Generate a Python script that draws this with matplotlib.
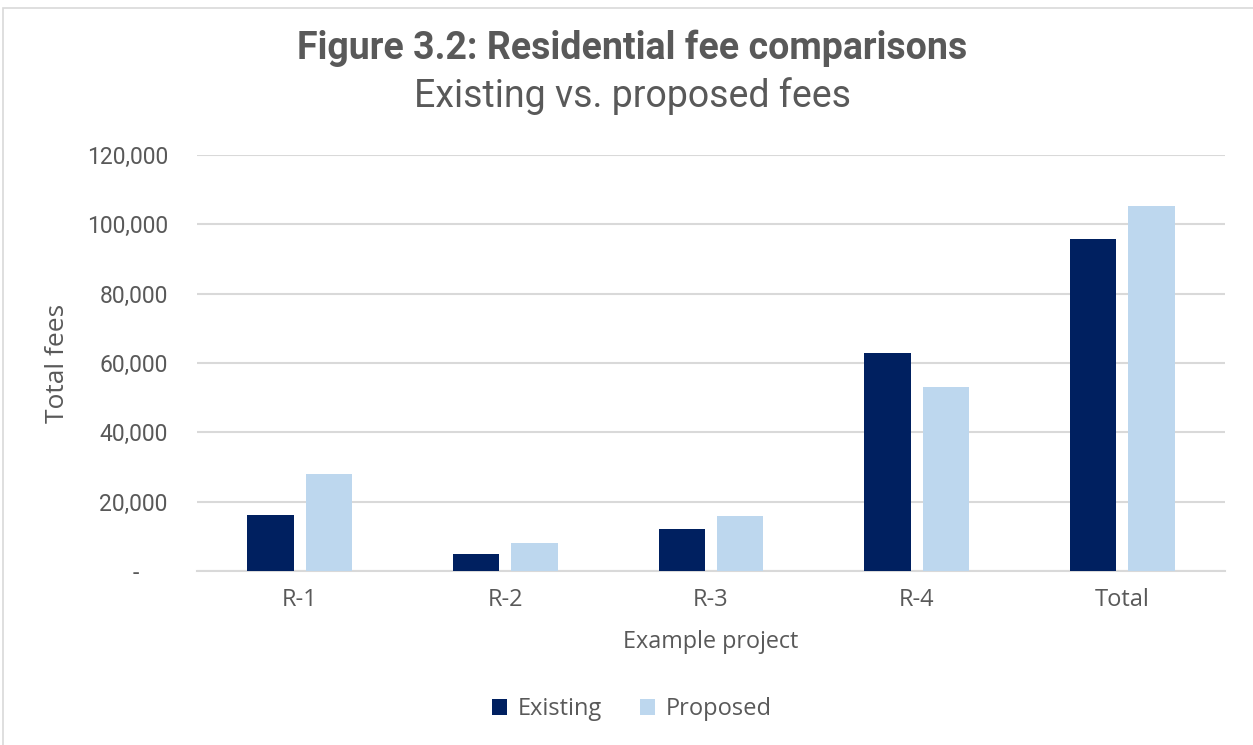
import numpy as np
from matplotlib import pyplot as plt
from matplotlib.patches import Rectangle
from matplotlib.ticker import FuncFormatter

categories = ['R-1', 'R-2', 'R-3', 'R-4', 'Total']
existing = [16200, 4900, 12000, 62800, 95900]
proposed = [28000, 8100, 15800, 53000, 105200]
yticks = [0, 20000, 40000, 60000, 80000, 100000, 120000]

navy = '#002060'
light = '#BDD7EE'
grey_txt = '#595959'
grid_col = '#D9D9D9'
body_font = ['Open Sans', 'DejaVu Sans']

plt.rcParams['font.family'] = ['Roboto', 'DejaVu Sans']

fig = plt.figure(figsize=(12.53, 7.45), dpi=100)
ax = fig.add_axes([197 / 1253, 1 - 571 / 745, (1225 - 197) / 1253, (571 - 155) / 745])

x = np.arange(len(categories))
w = 0.226
ax.bar(x - 0.142, existing, w, color=navy, label='Existing', zorder=3)
ax.bar(x + 0.142, proposed, w, color=light, label='Proposed', zorder=3)

ax.set_xlim(-0.5, 4.5)
ax.set_ylim(0, 120000)
ax.set_yticks(yticks)
ax.yaxis.set_major_formatter(FuncFormatter(lambda v, p: '-     ' if v == 0 else f'{int(v):,}'))
ax.set_xticks(x)
ax.set_xticklabels(categories)
ax.grid(axis='y', color=grid_col, linewidth=1.5, zorder=0)
for s in ['top', 'right', 'left']:
    ax.spines[s].set_visible(False)
ax.spines['bottom'].set_color(grid_col)
ax.spines['bottom'].set_linewidth(1.5)
ax.tick_params(axis='both', length=0, labelcolor=grey_txt)
ax.tick_params(axis='y', pad=21, labelsize=16.5)
ax.tick_params(axis='x', pad=12, labelsize=17)
for lbl in ax.get_xticklabels():
    lbl.set_family(body_font)

ax.set_ylabel('Total fees', fontsize=19, color=grey_txt, family=body_font, labelpad=12)
ax.set_xlabel('Example project', fontsize=16.8, color=grey_txt, family=body_font, labelpad=13)

fig.text(632 / 1253, 1 - 48 / 745, 'Figure 3.2: Residential fee comparisons', ha='center', va='center',
         fontsize=27, fontweight='bold', color=grey_txt)
fig.text(632 / 1253, 1 - 96 / 745, 'Existing vs. proposed fees', ha='center', va='center',
         fontsize=27, color=grey_txt)

leg = fig.legend(loc='center', bbox_to_anchor=(632 / 1253, 1 - 709 / 745), ncol=2, frameon=False,
                 handlelength=0.65, handleheight=0.65, handletextpad=0.45, columnspacing=1.6,
                 prop={'family': body_font, 'size': 17})
for t in leg.get_texts():
    t.set_color(grey_txt)

fig.patches.append(Rectangle((3 / 1253, -0.01), 1.01, 1.01 - 8 / 745, transform=fig.transFigure,
                             fill=False, edgecolor='#D9D9D9', linewidth=1.2))

fig.savefig('out.png', dpi=100)
